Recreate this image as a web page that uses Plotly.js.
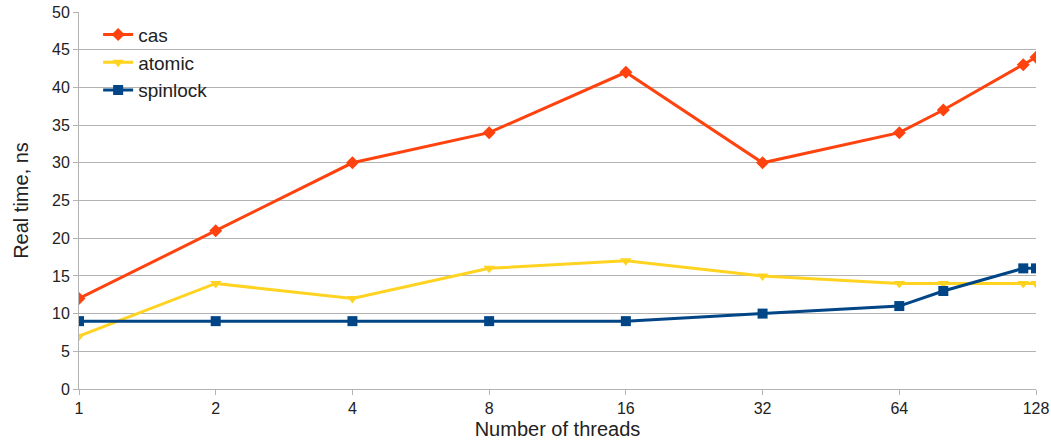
<!DOCTYPE html>
<html><head><meta charset="utf-8">
<script src="https://cdn.plot.ly/plotly-3.0.1.min.js"></script>
<style>body{margin:0;background:#fff}#c{width:1051px;height:441px}</style>
</head><body><div id="c"></div>
<script>
const threads = [1, 2, 4, 8, 16, 32, 64, 80, 120, 128];
const cas = [12, 21, 30, 34, 42, 30, 34, 37, 43, 44];
const atomic = [7, 14, 12, 16, 17, 15, 14, 14, 14, 14];
const spinlock = [9, 9, 9, 9, 9, 10, 11, 13, 16, 16];
const xTicks = [1, 2, 4, 8, 16, 32, 64, 128];
const yTicks = [0, 5, 10, 15, 20, 25, 30, 35, 40, 45, 50];

const font = {family: 'Liberation Sans, Arial, sans-serif', color: '#222', size: 16};
function tr(name, y, color, symbol) {
  return {x: threads, y: y, name: name, type: 'scatter', mode: 'lines+markers',
    line: {color: color, width: 3}, marker: {color: color, symbol: symbol, size: 10}};
}
const data = [
  tr('cas', cas, '#ff420e', 'diamond'),
  tr('atomic', atomic, '#ffd320', 'triangle-down'),
  tr('spinlock', spinlock, '#004586', 'square')
];
const layout = {
  width: 1051, height: 441,
  margin: {l: 79, r: 15, t: 12, b: 52},
  paper_bgcolor: '#fff', plot_bgcolor: '#fff',
  font: font,
  showlegend: true,
  legend: {x: 0.02, y: 0.99, xanchor: 'left', yanchor: 'top', bgcolor: 'rgba(0,0,0,0)',
    font: {family: font.family, size: 19, color: '#222'}, tracegroupgap: 0, itemwidth: 30},
  xaxis: {type: 'log', range: [0, Math.log10(128)], tickvals: xTicks, ticktext: xTicks.map(String),
    showgrid: false, showline: true, linecolor: '#b3b3b3', linewidth: 1,
    ticks: 'outside', ticklen: 5, tickcolor: '#b3b3b3', zeroline: false,
    tickfont: {family: font.family, size: 16, color: '#222'},
    title: {text: 'Number of threads', font: {family: font.family, size: 20, color: '#222'}, standoff: 5}},
  yaxis: {range: [0, 50], tickvals: yTicks, showgrid: true, gridcolor: '#b3b3b3', gridwidth: 1,
    showline: true, linecolor: '#b3b3b3', ticks: 'outside', ticklen: 5, tickcolor: '#b3b3b3',
    zeroline: false, tickfont: {family: font.family, size: 16, color: '#222'},
    title: {text: 'Real time, ns', font: {family: font.family, size: 20, color: '#222'}, standoff: 18}}
};
Plotly.newPlot('c', data, layout, {displayModeBar: false, staticPlot: true});
</script></body></html>
